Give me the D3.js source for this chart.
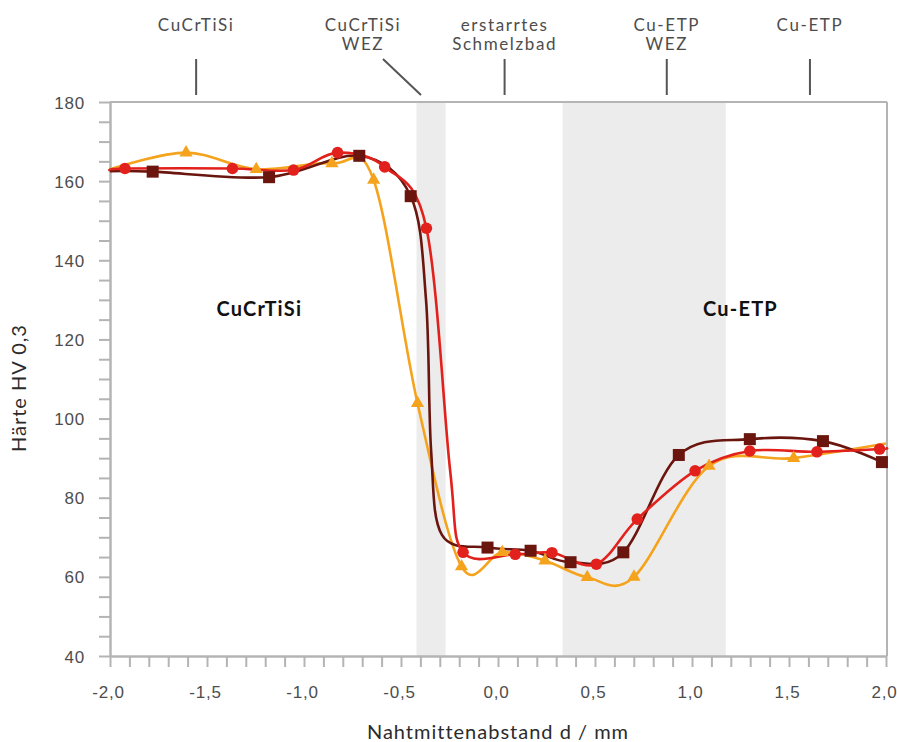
<!DOCTYPE html>
<html>
<head>
<meta charset="utf-8">
<script src="https://cdn.jsdelivr.net/npm/d3@7"></script>
<style>
  html, body { margin: 0; padding: 0; background: #fff; }
  svg { display: block; font-family: Lato, "Open Sans", sans-serif; }
</style>
</head>
<body>
<svg id="chart" width="897" height="742"></svg>
<script>
// ---------------- data ----------------
const xDomain = [-2, 2];
const yDomain = [40, 180];
const xTickValues = d3.range(-20, 21).map(d => d / 10);
const xLabelValues = [-2, -1.5, -1, -0.5, 0, 0.5, 1, 1.5, 2];
const yTickValues = d3.range(40, 181, 5);
const yLabelValues = [40, 60, 80, 100, 120, 140, 160, 180];

// shaded zones (mm)
const bandStart = [-0.42, 0.333];
const bandEnd = [-0.27, 1.174];

// zone annotations above the chart
const zoneLabels = [["CuCrTiSi"], ["CuCrTiSi", "WEZ"], ["erstarrtes", "Schmelzbad"], ["Cu-ETP", "WEZ"], ["Cu-ETP"]];
const zoneLabelX = [-1.556, -0.696, 0.034, 0.870, 1.608];
const zoneLineTopX = [-1.556, -0.593, 0.034, 0.870, 1.608];
const zoneLineBottomX = [-1.556, -0.397, 0.034, 0.870, 1.608];

// in-plot material labels
const materialLabels = ["CuCrTiSi", "Cu-ETP"];
const materialX = [-1.23, 1.25];
const materialY = [125.8, 125.8];

// series 1 (dark red, squares) — unmarked points follow the drawn curve
const darkX = [-2.0, -1.78, -1.18, -0.715, -0.45, -0.371, -0.345, -0.289, -0.054, 0.168, 0.374, 0.646, 0.932, 1.298, 1.675, 1.979];
const darkY = [162.5, 162.4, 161.0, 166.4, 156.2, 130.0, 92.1, 70.6, 67.4, 66.6, 63.7, 66.2, 90.8, 94.8, 94.3, 89.0];
const darkMarked = [false, true, true, true, true, false, false, false, true, true, true, true, true, true, true, true];

// series 2 (red, circles)
const redX = [-2.0, -1.923, -1.369, -1.054, -0.827, -0.584, -0.369, -0.247, -0.180, 0.089, 0.278, 0.507, 0.718, 1.016, 1.298, 1.644, 1.967, 2.0];
const redY = [162.7, 163.2, 163.2, 162.8, 167.2, 163.6, 148.1, 87.0, 66.2, 65.7, 66.1, 63.2, 74.6, 86.8, 91.8, 91.6, 92.3, 92.5];
const redMarked = [false, true, true, true, true, true, true, false, true, true, true, true, true, true, true, true, true, false];

// series 3 (orange, triangles)
const orangeX = [-2.0, -1.608, -1.246, -0.856, -0.641, -0.415, -0.188, 0.022, 0.242, 0.460, 0.701, 1.088, 1.524, 2.0];
const orangeY = [163.0, 167.2, 163.0, 164.5, 160.3, 103.9, 62.6, 66.2, 64.1, 59.9, 60.0, 88.0, 90.0, 93.7];
const orangeMarked = [false, true, true, true, true, true, true, true, true, true, true, true, true, false];

// ---------------- layout ----------------
const L = 110, R = 886, T = 102, B = 656;
const axisColor = "#b4b4b4";
const textColor = "#4d4d4d";

const svg = d3.select("#chart");
const x = d3.scaleLinear().domain(xDomain).range([L, R]);
const y = d3.scaleLinear().domain(yDomain).range([B, T]);
const fmt = v => d3.format(".1f")(v).replace(".", ",").replace("−", "-");

// bands
svg.append("g").selectAll("rect").data(bandStart).join("rect")
  .attr("x", (d, i) => x(d))
  .attr("width", (d, i) => x(bandEnd[i]) - x(d))
  .attr("y", T).attr("height", B - T)
  .attr("fill", "#ececec");

// frame (top & right)
svg.append("line").attr("x1", L).attr("x2", R + 1).attr("y1", T).attr("y2", T)
  .attr("stroke", axisColor).attr("stroke-width", 2);
svg.append("line").attr("x1", R + 1).attr("x2", R + 1).attr("y1", T).attr("y2", B)
  .attr("stroke", axisColor).attr("stroke-width", 2);

// y axis
const yAxis = d3.axisLeft(y).tickValues(yTickValues).tickSize(11).tickSizeOuter(0).tickPadding(14)
  .tickFormat(d => yLabelValues.includes(d) ? String(d) : "");
const gy = svg.append("g").attr("transform", `translate(${L},0)`).call(yAxis);
gy.select(".domain").attr("stroke", axisColor).attr("stroke-width", 2.5);
gy.selectAll(".tick line").attr("stroke", axisColor).attr("stroke-width", 2);
gy.selectAll(".tick text").attr("fill", textColor).style("font-size", "17px").style("letter-spacing", "0.8px")
  .attr("dy", "0.36em");

// x axis
const xAxis = d3.axisBottom(x).tickValues(xTickValues).tickSize(11).tickSizeOuter(0).tickPadding(19)
  .tickFormat(d => xLabelValues.some(v => Math.abs(v - d) < 1e-9) ? fmt(d) : "");
const gx = svg.append("g").attr("transform", `translate(0,${B})`).call(xAxis);
gx.select(".domain").attr("stroke", axisColor).attr("stroke-width", 2.5);
gx.selectAll(".tick line").attr("stroke", axisColor).attr("stroke-width", 2);
gx.selectAll(".tick text").attr("fill", textColor).style("font-size", "17px").style("letter-spacing", "0.8px")
  .attr("dx", "-2");

// axis titles
svg.append("text").attr("x", (L + R) / 2).attr("y", 739).attr("text-anchor", "middle")
  .attr("fill", "#2b2b2b").style("font-size", "20px").style("letter-spacing", "1px")
  .text("Nahtmittenabstand d / mm");
svg.append("text").attr("transform", "translate(26,388) rotate(-90)").attr("text-anchor", "middle")
  .attr("fill", "#2b2b2b").style("font-size", "20px").style("letter-spacing", "1px")
  .text("Härte HV 0,3");

// zone annotations
const ann = svg.append("g");
zoneLabels.forEach((lines, i) => {
  const t = ann.append("text").attr("text-anchor", "middle").attr("fill", textColor)
    .style("font-size", "17px").style("letter-spacing", "1.6px");
  lines.forEach((s, j) => {
    t.append("tspan").attr("x", x(zoneLabelX[i])).attr("y", 31 + j * 19).text(s);
  });
  ann.append("line")
    .attr("x1", x(zoneLineTopX[i])).attr("y1", 59)
    .attr("x2", x(zoneLineBottomX[i])).attr("y2", 95)
    .attr("stroke", "#555").attr("stroke-width", 2);
});

// material labels
svg.append("g").selectAll("text").data(materialLabels).join("text")
  .attr("x", (d, i) => x(materialX[i])).attr("y", (d, i) => y(materialY[i]))
  .attr("text-anchor", "middle").attr("fill", "#111")
  .style("font-size", "20px").style("font-weight", "700").style("letter-spacing", "1.2px")
  .text(d => d);

// series
const series = [
  { xs: orangeX, ys: orangeY, marked: orangeMarked, color: "#f5a31d", shape: "triangle" },
  { xs: darkX, ys: darkY, marked: darkMarked, color: "#6a160f", shape: "square" },
  { xs: redX, ys: redY, marked: redMarked, color: "#e2211c", shape: "circle" }
];
const line = d3.line().x(d => x(d[0])).y(d => y(d[1])).curve(d3.curveCatmullRom.alpha(0));

const linesG = svg.append("g");
const marksG = svg.append("g");
series.forEach(s => {
  const pts = s.xs.map((v, i) => [v, s.ys[i], s.marked[i]]);
  linesG.append("path").datum(pts).attr("d", line)
    .attr("fill", "none").attr("stroke", s.color).attr("stroke-width", 2.6);
  const mp = pts.filter(p => p[2]);
  if (s.shape === "circle") {
    marksG.selectAll(null).data(mp).join("circle")
      .attr("cx", d => x(d[0])).attr("cy", d => y(d[1])).attr("r", 5.8).attr("fill", s.color);
  } else if (s.shape === "square") {
    marksG.selectAll(null).data(mp).join("rect")
      .attr("x", d => x(d[0]) - 6).attr("y", d => y(d[1]) - 6)
      .attr("width", 12).attr("height", 12).attr("fill", s.color);
  } else {
    const sym = d3.symbol().type(d3.symbolTriangle).size(75);
    marksG.selectAll(null).data(mp).join("path")
      .attr("transform", d => `translate(${x(d[0])},${y(d[1])})`)
      .attr("d", sym).attr("fill", s.color);
  }
});
</script>
</body>
</html>
